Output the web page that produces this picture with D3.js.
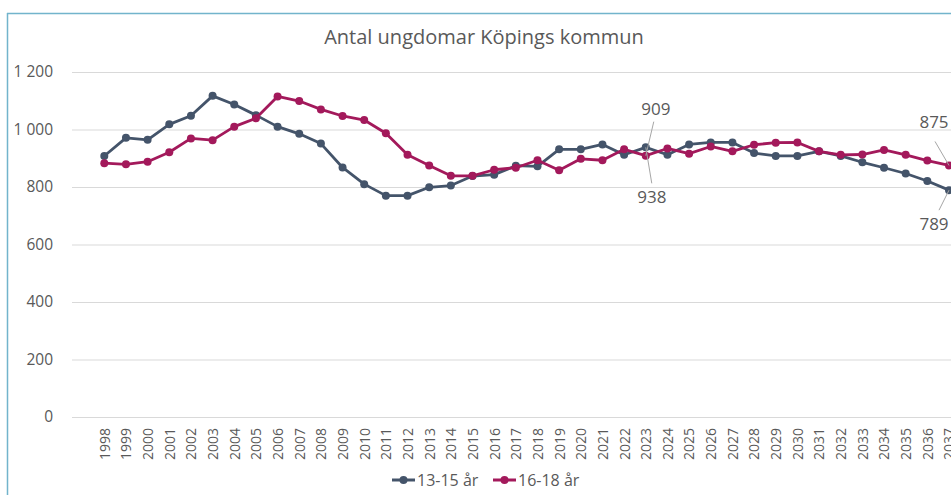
<!DOCTYPE html>
<html>
<head>
<meta charset="utf-8">
<script src="https://cdn.jsdelivr.net/npm/d3@7"></script>
<style>
  html, body { margin: 0; padding: 0; background: #fff; overflow: hidden; }
  svg { display: block; }
  text { font-family: "Open Sans", Lato, sans-serif; fill: #595959; }
</style>
</head>
<body>
<svg id="chart" width="951" height="495"></svg>
<script>
const title = "Antal ungdomar Köpings kommun";
const years = ["1998","1999","2000","2001","2002","2003","2004","2005","2006","2007",
  "2008","2009","2010","2011","2012","2013","2014","2015","2016","2017",
  "2018","2019","2020","2021","2022","2023","2024","2025","2026","2027",
  "2028","2029","2030","2031","2032","2033","2034","2035","2036","2037"];
const seriesNames = ["13-15 år", "16-18 år"];
const young = [908, 971, 964, 1018, 1048, 1117, 1087, 1050, 1010, 985,
  951, 868, 810, 770, 770, 799, 805, 838, 843, 874,
  872, 931, 931, 948, 912, 938, 912, 948, 955, 955,
  918, 908, 908, 924, 908, 886, 867, 847, 821, 789];
const older = [883, 879, 888, 921, 969, 963, 1010, 1039, 1115, 1099,
  1070, 1047, 1033, 987, 912, 875, 839, 839, 860, 867,
  893, 858, 898, 893, 931, 909, 934, 916, 941, 924,
  947, 954, 955, 924, 912, 913, 929, 912, 892, 875];
const yTicks = [0, 200, 400, 600, 800, 1000, 1200];
const labelledYears = ["2023", "2037"];
const colors = ["#44546a", "#a3195b"];

const svg = d3.select("#chart");
const W = 951, H = 495;
const FONT = "'Open Sans', Lato, sans-serif";

// frame
svg.append("line").attr("x1", 7.5).attr("x2", 7.5).attr("y1", 13).attr("y2", H)
  .attr("stroke", "#72b4cc").attr("stroke-width", 1.5);
svg.append("line").attr("x1", 7).attr("x2", W).attr("y1", 13.5).attr("y2", 13.5)
  .attr("stroke", "#72b4cc").attr("stroke-width", 1.5);

const x = d3.scalePoint().domain(years).range([104.3, 949]);
const y = d3.scaleLinear().domain([0, 1200]).range([417, 72]);
const fmt = v => d3.format(",")(v).replace(/,/g, " ");

// title
svg.append("text").attr("x", 484).attr("y", 44).attr("text-anchor", "middle")
  .attr("font-size", 20).text(title);

// y grid + labels
const yAxis = d3.axisLeft(y).tickValues(yTicks).tickSize(-(W - 72)).tickFormat(fmt).tickPadding(19);
const gy = svg.append("g").attr("transform", "translate(72,0)").call(yAxis);
gy.select(".domain").remove();
gy.selectAll(".tick line").attr("stroke", "#d9d9d9").attr("stroke-width", 1);
gy.selectAll(".tick text").attr("font-size", 15.5).attr("fill", "#595959")
  .attr("font-family", FONT);

// x labels
const xAxis = d3.axisBottom(x).tickSize(0).tickPadding(0);
const gx = svg.append("g").attr("transform", "translate(0,417)").call(xAxis);
gx.select(".domain").remove();
gx.selectAll(".tick text")
  .attr("font-size", 14).attr("fill", "#595959")
  .attr("font-family", FONT)
  .attr("text-anchor", "end")
  .attr("transform", "rotate(-90)")
  .attr("x", -11).attr("y", 0).attr("dy", "0.35em");

// series
const data = [young, older];
const line = d3.line().x((d, i) => x(years[i])).y(d => y(d));
data.forEach((vals, s) => {
  svg.append("path").datum(vals).attr("d", line)
    .attr("fill", "none").attr("stroke", colors[s]).attr("stroke-width", 2.8)
    .attr("stroke-linejoin", "round");
  svg.append("g").selectAll("circle").data(vals).join("circle")
    .attr("cx", (d, i) => x(years[i])).attr("cy", d => y(d)).attr("r", 4)
    .attr("fill", colors[s]);
});

// data labels with leader lines
labelledYears.forEach(yr => {
  const i = years.indexOf(yr);
  const px = x(yr);
  const isLast = i === years.length - 1;
  const lx = isLast ? px - 15 : px + 10;
  // 16-18 above
  const ry = y(older[i]);
  svg.append("line").attr("x1", isLast ? px - 14 : px + 8).attr("y1", isLast ? ry - 24 : ry - 34)
    .attr("x2", px).attr("y2", ry).attr("stroke", "#a6a6a6").attr("stroke-width", 1);
  svg.append("text").attr("x", lx).attr("y", isLast ? ry - 37 : ry - 41)
    .attr("text-anchor", "middle").attr("font-size", 17).text(older[i]);
  // 13-15 below
  const by = y(young[i]);
  svg.append("line").attr("x1", isLast ? px - 10 : px + 6).attr("y1", isLast ? by + 20 : by + 36)
    .attr("x2", px).attr("y2", by).attr("stroke", "#a6a6a6").attr("stroke-width", 1);
  svg.append("text").attr("x", isLast ? px - 15 : px + 6).attr("y", isLast ? by + 40 : by + 56)
    .attr("text-anchor", "middle").attr("font-size", 17).text(young[i]);
});

// legend
const legX = [392, 493];
seriesNames.forEach((n, s) => {
  const g = svg.append("g").attr("transform", `translate(${legX[s]},480)`);
  g.append("line").attr("x1", 0).attr("x2", 23).attr("y1", 0).attr("y2", 0)
    .attr("stroke", colors[s]).attr("stroke-width", 3);
  g.append("circle").attr("cx", 11.5).attr("cy", 0).attr("r", 4).attr("fill", colors[s]);
  g.append("text").attr("x", 25).attr("y", 0).attr("dy", "0.35em")
    .attr("font-size", 16).text(n);
});
</script>
</body>
</html>
